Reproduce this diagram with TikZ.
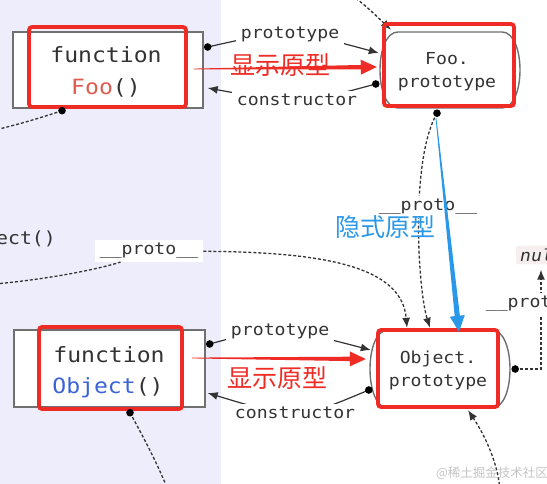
\documentclass[tikz,border=0pt]{standalone}
\usepackage{fontspec}
\usetikzlibrary{calc,arrows.meta}
\newfontfamily\mono[FakeStretch=1.1]{DejaVu Sans Mono}
\newfontfamily\monoit[FakeStretch=1.1,FakeSlant=0.2]{DejaVu Sans Mono}
\newfontfamily\cjk{Noto Sans CJK SC}
\definecolor{bgband}{HTML}{EDEDFB}
\definecolor{grayb}{HTML}{707070}
\definecolor{redm}{HTML}{EE2B24}
\definecolor{foored}{HTML}{E05A50}
\definecolor{objblue}{HTML}{3B63D8}
\definecolor{bluem}{HTML}{2A98E8}
\definecolor{dk}{HTML}{333333}
\definecolor{nullbg}{HTML}{F7EFEF}
\definecolor{wmgray}{HTML}{C4C4C4}
\newcommand{\taparrow}[5]{%
  \coordinate (taH) at ($(#3)!16pt!(#2)$);
  \fill[#1] ($(#2)!0.4pt!90:(#3)$) -- ($(taH)!#4!-90:(#2)$) -- ($(taH)!#5!-90:(#2)$) -- (#3)
    -- ($(taH)!#5!90:(#2)$) -- ($(taH)!#4!90:(#2)$) -- ($(#2)!0.4pt!-90:(#3)$) -- cycle;}
\newcommand{\bulgebox}[3]{% node name, half width, half height
  \draw[draw=grayb,line width=1.4pt,fill=white]
    ($(#1)+(-#2+18,-#3)$) -- ($(#1)+(#2-18,-#3)$)
    .. controls ($(#1)+(#2+6,-#3)$) and ($(#1)+(#2+6,#3)$) .. ($(#1)+(#2-18,#3)$)
    -- ($(#1)+(-#2+18,#3)$)
    .. controls ($(#1)+(-#2-6,#3)$) and ($(#1)+(-#2-6,-#3)$) .. cycle;}
\begin{document}
\begin{tikzpicture}[x=1pt,y=-1pt,
  graybox/.style={draw=grayb,line width=1.4pt,fill=white,rectangle,inner sep=0pt},
  grayround/.style={rectangle,inner sep=0pt},
  redbox/.style={draw=redm,line width=3.8pt,rounded corners=3pt,rectangle,inner sep=0pt},
  big/.style={font=\mono\fontsize{21}{25}\selectfont,text=dk,inner sep=0pt,anchor=base},
  mid/.style={font=\mono\fontsize{16.5}{20}\selectfont,text=dk,inner sep=0pt,anchor=base},
  lbl/.style={font=\mono\fontsize{16.5}{20}\selectfont,text=dk,fill=white,inner xsep=5pt,inner ysep=3pt},
  cjklab/.style={font=\cjk\fontsize{25}{28}\selectfont,inner sep=0pt},
  conn/.style={draw=dk,line width=1.2pt},
  dsh/.style={draw=dk,line width=1.3pt,dash pattern=on 3pt off 2pt},
  tip/.style={-{Latex[length=10pt,width=8pt]}},
  dotf/.style={fill=black}]
\useasboundingbox (0,0) rectangle (547,484);
\clip (0,0) rectangle (547,484);
\fill[bgband] (0,0) rectangle (221,484);

% boxes
\node[graybox,minimum width=190pt,minimum height=76pt] (foo) at (108,70) {};
\node[grayround,minimum width=140pt,minimum height=76pt] (fooproto) at (450,70) {};
\bulgebox{fooproto}{70}{38}
\node[graybox,minimum width=191pt,minimum height=77pt] (obj) at (109.5,368.5) {};
\node[grayround,minimum width=140pt,minimum height=78pt] (objproto) at (440,369) {};
\bulgebox{objproto}{70}{39}

% endpoints
\coordinate (p1s) at ([xshift=4pt,yshift=23pt]foo.east);
\coordinate (p1e) at ([xshift=-1pt,yshift=17pt]fooproto.west);
\coordinate (p2s) at ([xshift=-4pt,yshift=-14pt]fooproto.west);
\coordinate (p2e) at ([xshift=4pt,yshift=-18pt]foo.east);
\coordinate (p3s) at ([xshift=4pt,yshift=24.5pt]obj.east);
\coordinate (p3e) at ([xshift=1pt,yshift=19pt]objproto.west);
\coordinate (p4s) at ([xshift=-1pt,yshift=-21pt]objproto.west);
\coordinate (p4e) at ([xshift=2pt,yshift=-24.5pt]obj.east);
\coordinate (p5s) at ([xshift=-13pt,yshift=-5pt]fooproto.south);
\coordinate (p5e) at ([xshift=-10pt,yshift=2pt]objproto.north);
\coordinate (p6e) at ([xshift=-33pt,yshift=2pt]objproto.north);
\coordinate (p7s) at ([xshift=-46pt,yshift=-2pt]foo.south);
\coordinate (p7e) at (-5,130);
\coordinate (p8s) at ([xshift=20.5pt,yshift=-5pt]obj.south);
\coordinate (p8e) at (168,490);
\coordinate (p9s) at ([xshift=5pt]objproto.east);
\coordinate (p10s) at (500,490);
\coordinate (p10e) at ([xshift=28pt,yshift=-2pt]objproto.south);
\coordinate (p11s) at (352,-5);
\coordinate (p11e) at ([xshift=-59pt,yshift=2pt]fooproto.north);
\coordinate (p6s) at (-5,284);

% solid connectors
\draw[conn,tip] (p1s) .. controls (289,28.7) .. node[lbl] (l1) {prototype} (p1e);
\draw[conn,tip] (p2s) .. controls (298.8,104.7) .. node[lbl] (l2) {constructor} (p2e);
\draw[conn,tip] (p3s) .. controls (276.8,325.7) .. node[lbl] (l3) {prototype} (p3e);
\draw[conn,tip] (p4s) .. controls (297.3,420.1) .. node[lbl] (l4) {constructor} (p4e);

% dashed connectors
\draw[dsh,tip] (p5s) .. controls (410,160) and (418,290) .. (p5e);
\node[lbl] (l5) at (428,207) {\_\_proto\_\_};
\node[lbl] (l6) at (149,251) {\_\_proto\_\_};
\draw[dsh] (p6s) .. controls (60,278) and (110,266) .. (l6);
\draw[dsh,tip] (l6) .. controls (330,252) and (402,268) .. (p6e);
\draw[dsh] (p7s) .. controls (40,118) and (20,124) .. (p7e);
\draw[dsh] (p8s) .. controls (145,440) and (158,465) .. (p8e);
\node[font=\monoit\fontsize{16.5}{20}\selectfont,text=dk,fill=nullbg,rounded corners=2pt,inner sep=3pt] (nul) at (541,255) {null};
\draw[dsh,tip] (p9s) -| ([yshift=-5pt]nul.south);
\node[lbl] (l9) at (535,304) {\_\_proto\_\_};
\draw[dsh,tip] (p10s) .. controls (497,455) and (478,425) .. (p10e);
\draw[dsh,tip] (p11s) .. controls (368,8) .. (p11e);

% red boxes and texts
\node[redbox,minimum width=157pt,minimum height=80pt] (foor) at (107.5,67) {};
\node[redbox,minimum width=130pt,minimum height=82pt] (fooprotor) at (449,65) {};
\node[redbox,minimum width=143pt,minimum height=82pt] (objr) at (110.5,368) {};
\node[redbox,minimum width=120pt,minimum height=77pt] (objprotor) at (438,368.5) {};

\node[big] (t1) at (106,63) {function};
\node[big] (t2) at (106,95) {\textcolor{foored}{Foo}()};
\node[big] (t3) at (109,362) {function};
\node[big] (t4) at (108,393) {\textcolor{objblue}{Object}()};
\node[mid] (t5) at (447,65) {Foo.};
\node[mid] (t6) at (447,88) {prototype};
\node[mid] (t7) at (438,363) {Object.};
\node[mid] (t8) at (438,386) {prototype};
\node[font=\mono\fontsize{18}{20}\selectfont,text=dk,inner sep=0pt,anchor=base east] (t9) at (56,245) {ect()};

% coloured arrows
\coordinate (r1s) at ([xshift=6pt,yshift=-2pt]foor.east);
\coordinate (r1t) at ([xshift=-3pt,yshift=3pt]fooproto.west);
\taparrow{redm}{r1s}{r1t}{2.2pt}{7.5pt}
\node[cjklab,text=redm] (c1) at (280,65) {显示原型};
\coordinate (r2s) at ([xshift=8pt,yshift=10pt]objr.east);
\coordinate (r2t) at ([xshift=-4pt,yshift=10pt]objproto.west);
\taparrow{redm}{r2s}{r2t}{2.2pt}{7.5pt}
\node[cjklab,text=redm] (c2) at (277,378) {显示原型};
\coordinate (b1s) at ([xshift=-14pt,yshift=-10pt]fooproto.south);
\coordinate (b1t) at ([xshift=19pt,yshift=-2pt]objproto.north);
\taparrow{bluem}{b1s}{b1t}{2.6pt}{7.5pt}
\node[cjklab,text=bluem] (c3) at (385,227) {隐式原型};

% dots
\fill[dotf] (p1s) circle (3.8pt);
\fill[dotf] (p2s) circle (3.8pt);
\fill[dotf] (p3s) circle (3.8pt);
\fill[dotf] (p4s) circle (3.8pt);
\fill[dotf] (p5s) circle (3.8pt);
\fill[dotf] (p7s) circle (3.8pt);
\fill[dotf] (p8s) circle (3.8pt);
\fill[dotf] (p9s) circle (3.8pt);

\node[font=\cjk\fontsize{12.5}{14}\selectfont,text=wmgray,inner sep=0pt] (wm) at (492,473) {@稀土掘金技术社区};
\end{tikzpicture}
\end{document}
